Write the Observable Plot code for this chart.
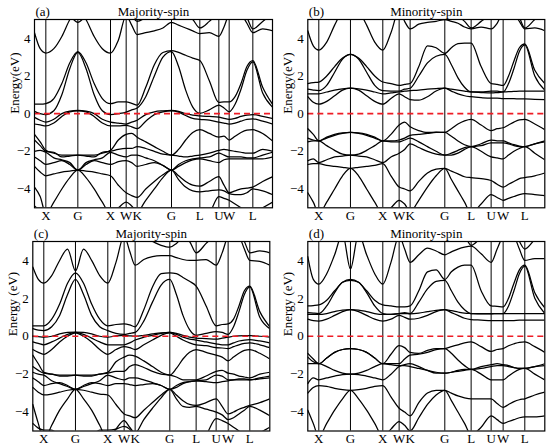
<!DOCTYPE html>
<html><head><meta charset="utf-8">
<script src="https://cdn.jsdelivr.net/npm/d3@7"></script>
<script src="https://cdn.jsdelivr.net/npm/@observablehq/plot@0.6"></script>
<style>
body{margin:0;background:#fff;}
#fig{position:relative;width:550px;height:448px;overflow:hidden;}
#fig > svg{position:absolute;}
</style></head><body><div id="fig"></div>
<script>
// k-path labels (high-symmetry points)
const kLabels = ["X","G","X","W","K","G","L","U","W","L"];
// k-path distances of the segment ends (start, 10 labelled points, end)
const kposA = [0,34,130,228,275,308,411,496,553,584,655,714];
const kposB = [0,33,128,225,274,307,411,490,550,586,651,711];
// sample positions along the path, in segment units (integers = labelled points)
const T = [0,0.5,1,1.25,1.5,1.75,2,2.25,2.5,2.75,3,3.5,4,4.5,5,5.25,5.5,5.75,6,6.25,6.5,6.75,7,7.5,8,8.5,9,9.25,9.5,9.75,10,10.5,11];
const yTicks = [-4,-2,0,2,4];

// (a) Majority-spin
const bandsA = [
[4.3,3.45,3.22,3.45,4.1,5.0,5.6,5.0,4.1,3.45,3.22, 3.9,5.2,4.7,4.2,4.3,4.4,4.55,4.85, 4.7,4.55,4.4,4.25,4.3,4.1,4.6,5.3, 5.5,5.3,4.8,4.3,4.5,4.4],
[5.6,5.6,5.6,5.6,5.5,5.2,4.85,5.2,5.5,5.6,5.6, 5.6,5.5,5.2,4.9,5.1,5.3,5.3,5.0, 5.2,5.3,5.0,4.55,4.9,5.4,5.6,5.6, 5.6,5.5,5.1,4.5,4.9,5.3],
[0.5,0.5,0.53,0.8,1.6,2.7,3.3,2.7,1.6,0.8,0.53, 0.62,0.62,0.55,0.45,1.4,2.6,3.25,3.35, 3.25,3.1,2.95,2.82,1.75,0.6,0.63,0.62, 0.9,1.6,2.5,2.82,1.4,0.5],
[0.12,0.0,-0.05,0.15,1.0,2.4,3.25,2.4,1.0,0.15,-0.05, 0.0,0.08,0.2,0.3,0.9,2.0,3.0,3.3, 2.5,1.25,0.35,0.02,0.2,0.45,0.3,0.1, 0.5,1.3,2.3,2.75,1.1,0.35],
[-0.2,-0.35,-0.45,-0.3,0.0,0.13,0.17,0.13,0.0,-0.3,-0.45, -0.5,-0.55,-0.45,-0.35,-0.05,0.1,0.15,0.17, 0.12,0.0,-0.08,-0.12,-0.15,-0.18,-0.25,-0.3, -0.25,-0.15,-0.08,-0.05,-0.15,-0.25],
[-0.55,-0.6,-0.65,-0.5,-0.15,0.1,0.15,0.1,-0.15,-0.5,-0.65, -0.65,-0.62,-0.7,-0.8,-0.4,-0.05,0.1,0.15, 0.08,-0.1,-0.25,-0.3,-0.35,-0.45,-0.5,-0.55, -0.5,-0.4,-0.3,-0.28,-0.4,-0.55],
[-1.1,-1.5,-1.95,-2.1,-2.2,-2.2,-2.2,-2.2,-2.2,-2.1,-1.95, -1.4,-1.1,-1.05,-1.25,-1.5,-1.75,-2.0,-2.2, -1.9,-1.4,-1.0,-0.85,-1.05,-1.25,-1.2,-1.4, -1.2,-1.0,-0.88,-0.85,-1.05,-1.45],
[-1.4,-1.7,-2.0,-2.05,-2.3,-2.25,-2.2,-2.25,-2.3,-2.05,-2.0, -1.9,-1.85,-1.85,-1.75,-1.85,-2.0,-2.15,-2.2, -2.25,-2.3,-2.25,-2.2,-2.1,-1.95,-1.9,-1.95, -2.0,-2.05,-2.1,-2.1,-1.9,-2.0],
[-2.0,-1.95,-2.05,-2.35,-2.45,-2.6,-3.0,-2.6,-2.45,-2.35,-2.05, -2.2,-2.3,-2.2,-2.2,-2.35,-2.5,-2.75,-3.0, -2.7,-2.5,-2.4,-2.35,-2.3,-2.1,-2.2,-2.3, -2.3,-2.3,-2.35,-2.35,-2.2,-2.05],
[-2.3,-2.5,-2.7,-2.6,-2.5,-2.7,-3.0,-2.7,-2.5,-2.6,-2.7, -2.55,-2.5,-2.6,-2.8,-2.7,-2.6,-2.75,-3.0, -2.8,-2.6,-2.45,-2.4,-2.5,-2.6,-2.45,-2.4, -2.4,-2.4,-2.4,-2.4,-2.4,-2.3],
[-2.8,-3.1,-3.3,-3.2,-3.1,-3.05,-3.0,-3.05,-3.1,-3.2,-3.3, -3.8,-4.2,-4.35,-4.45,-4.0,-3.6,-3.25,-3.0, -3.3,-3.6,-3.8,-3.85,-3.6,-3.35,-3.8,-4.2, -4.1,-4.0,-3.95,-3.9,-3.6,-3.35],
[-3.9,-4.4,-5.3,-4.7,-4.0,-3.4,-3.0,-3.4,-4.0,-4.7,-5.3, -5.0,-4.7,-4.9,-5.2,-4.6,-4.0,-3.4,-3.0, -3.5,-3.9,-4.1,-4.15,-4.1,-4.05,-4.1,-4.25, -4.3,-4.3,-4.2,-4.0,-4.1,-4.3],
[-4.9,-5.2,-5.6,-5.6,-5.6,-5.6,-5.6,-5.6,-5.6,-5.6,-5.6, -5.6,-5.6,-5.6,-5.6,-5.6,-5.6,-5.6,-5.6, -5.6,-5.6,-5.6,-5.6,-5.3,-4.4,-4.5,-4.6, -4.8,-5.0,-5.2,-5.3,-5.0,-4.7]
];

// (b) Minority-spin
const bandsB = [
[4.4,3.6,3.38,3.8,4.7,5.5,6.0,5.5,4.7,3.8,3.38, 4.3,5.5,4.9,4.5,4.75,4.85,4.9,5.0, 4.9,4.8,4.6,4.5,4.6,4.5,4.8,5.4, 5.5,5.3,4.9,4.5,4.55,4.4],
[5.6,5.6,5.6,5.6,5.6,5.6,5.6,5.6,5.6,5.6,5.6, 5.6,5.6,5.3,5.0,5.2,5.4,5.5,5.5, 5.4,5.2,4.9,4.55,4.9,5.3,5.6,5.6, 5.6,5.5,5.1,4.55,5.0,5.4],
[1.6,1.65,1.68,2.0,2.5,2.95,3.15,2.95,2.5,2.0,1.68, 1.6,1.5,1.55,1.6,2.5,3.6,3.5,3.2, 3.5,3.72,3.75,3.75,2.5,1.6,1.55,1.5, 2.0,2.8,3.5,3.7,2.3,1.6],
[1.3,1.25,1.22,1.5,2.2,2.9,3.15,2.9,2.2,1.5,1.22, 1.2,1.2,1.3,1.35,2.0,2.7,3.05,3.15, 2.6,1.9,1.4,1.15,1.15,1.2,1.2,1.15, 1.6,2.4,3.3,3.65,2.0,1.25],
[1.05,1.05,1.05,1.15,1.25,1.32,1.35,1.32,1.25,1.15,1.05, 1.1,1.15,1.2,1.22,1.25,1.3,1.33,1.35, 1.3,1.25,1.2,1.15,1.12,1.1,1.12,1.15, 1.17,1.18,1.2,1.2,1.2,1.2],
[0.9,0.6,0.5,0.65,0.95,1.25,1.35,1.25,0.95,0.65,0.5, 0.8,1.05,0.9,0.75,0.72,0.9,1.2,1.35, 1.2,1.05,0.95,0.9,0.85,0.82,0.82,0.8, 0.8,0.8,0.78,0.78,0.76,0.75],
[-0.8,-1.1,-1.45,-1.25,-1.1,-1.02,-1.0,-1.02,-1.1,-1.25,-1.45, -1.1,-0.6,-0.45,-0.7,-0.9,-1.0,-0.98,-1.0, -0.8,-0.55,-0.38,-0.3,-0.6,-0.9,-0.8,-0.75, -0.6,-0.45,-0.33,-0.3,-0.55,-0.85],
[-1.3,-1.4,-1.45,-1.3,-1.15,-1.05,-1.0,-1.05,-1.15,-1.3,-1.45, -1.45,-1.4,-1.3,-1.15,-1.1,-1.05,-1.0,-1.0, -1.2,-1.45,-1.65,-1.75,-1.6,-1.4,-1.45,-1.45, -1.55,-1.65,-1.72,-1.75,-1.6,-1.45],
[-1.5,-1.45,-1.45,-1.7,-1.95,-2.15,-2.2,-2.15,-1.95,-1.7,-1.45, -1.5,-1.5,-1.4,-1.3,-1.5,-1.75,-2.0,-2.2, -2.1,-1.95,-1.8,-1.75,-1.7,-1.55,-1.55,-1.55, -1.6,-1.7,-1.75,-1.75,-1.6,-1.5],
[-2.5,-2.4,-2.6,-2.45,-2.3,-2.25,-2.2,-2.25,-2.3,-2.45,-2.6, -2.3,-2.1,-1.9,-1.6,-1.8,-2.0,-2.15,-2.2, -2.2,-2.1,-1.9,-1.75,-2.0,-2.3,-2.35,-2.4, -2.2,-2.0,-1.85,-1.75,-2.1,-2.45],
[-2.7,-2.65,-2.65,-2.75,-2.8,-2.85,-2.9,-2.85,-2.8,-2.75,-2.65, -3.3,-3.9,-4.0,-4.1,-3.6,-3.15,-2.95,-2.9, -3.05,-3.2,-3.35,-3.4,-3.45,-3.55,-3.75,-3.9, -3.75,-3.6,-3.45,-3.4,-3.3,-3.15],
[-4.2,-4.7,-5.3,-4.7,-4.0,-3.3,-2.9,-3.3,-4.0,-4.7,-5.3, -5.0,-4.6,-4.8,-5.2,-4.6,-3.9,-3.3,-2.9, -3.5,-4.1,-4.7,-5.3,-4.8,-4.3,-4.45,-4.6, -4.5,-4.4,-4.3,-4.25,-4.3,-4.35]
];

// (c) Majority-spin
const bandsC = [
[3.65,3.0,2.8,3.2,4.0,4.6,3.45,4.6,4.0,3.2,2.8, 3.9,5.3,4.5,3.75,4.05,4.2,4.25,4.25, 4.15,4.05,4.0,4.0,4.05,3.75,4.4,5.3, 5.5,5.3,4.6,4.0,3.95,3.75],
[5.6,5.6,5.6,5.6,5.6,5.6,5.6,5.6,5.6,5.6,5.6, 5.6,5.6,5.5,5.3,5.2,5.0,4.8,4.7, 4.9,5.2,5.0,4.4,4.9,5.4,5.6,5.6, 5.6,5.5,5.0,4.4,4.5,4.4],
[0.55,0.55,0.55,0.9,1.7,2.8,3.35,2.8,1.7,0.9,0.55, 0.62,0.65,0.6,0.5,1.4,2.6,3.3,3.35, 3.3,3.1,2.9,2.65,1.6,0.55,0.62,0.65, 0.9,1.6,2.4,2.65,1.3,0.5],
[0.4,0.32,0.3,0.5,1.1,2.2,3.0,2.2,1.1,0.5,0.3, 0.15,0.1,0.15,0.2,0.8,1.8,2.7,3.0, 2.2,1.1,0.35,0.05,0.15,0.25,0.2,0.1, 0.5,1.3,2.2,2.6,1.0,0.4],
[0.0,-0.02,-0.05,0.0,0.12,0.2,0.22,0.2,0.12,0.0,-0.05, 0.02,0.05,0.02,0.0,0.05,0.12,0.18,0.2, 0.15,0.05,-0.05,-0.1,-0.12,-0.15,-0.1,-0.05, 0.0,0.02,0.03,0.03,0.0,-0.05],
[-0.3,-0.38,-0.45,-0.3,-0.1,0.1,0.2,0.1,-0.1,-0.3,-0.45, -0.45,-0.45,-0.35,-0.2,-0.05,0.05,0.15,0.2, 0.1,-0.05,-0.15,-0.2,-0.3,-0.4,-0.45,-0.45, -0.35,-0.25,-0.2,-0.18,-0.25,-0.35],
[-0.7,-0.85,-0.95,-0.7,-0.3,0.0,0.18,0.0,-0.3,-0.7,-0.95, -0.7,-0.55,-0.6,-0.7,-0.45,-0.2,0.05,0.18, 0.0,-0.2,-0.35,-0.45,-0.5,-0.6,-0.62,-0.65, -0.55,-0.45,-0.38,-0.35,-0.45,-0.6],
[-1.0,-1.45,-1.9,-2.0,-2.05,-2.05,-2.05,-2.05,-2.05,-2.0,-1.9, -1.35,-1.1,-1.0,-1.05,-1.3,-1.6,-1.9,-2.05, -1.7,-1.2,-0.85,-0.7,-0.85,-1.0,-1.1,-1.3, -1.1,-0.9,-0.75,-0.7,-0.9,-1.2],
[-1.6,-1.8,-1.95,-2.0,-2.1,-2.1,-2.05,-2.1,-2.1,-2.0,-1.95, -1.85,-1.85,-1.6,-1.5,-1.65,-1.85,-2.0,-2.05, -2.15,-2.3,-2.3,-2.3,-2.1,-1.85,-1.8,-1.95, -2.0,-2.1,-2.15,-2.2,-2.0,-1.9],
[-1.9,-2.0,-2.05,-2.35,-2.5,-2.65,-2.8,-2.65,-2.5,-2.35,-2.05, -2.2,-2.3,-2.2,-2.2,-2.3,-2.45,-2.6,-2.8, -2.6,-2.45,-2.4,-2.35,-2.3,-2.05,-2.1,-2.3, -2.3,-2.25,-2.25,-2.3,-2.2,-2.1],
[-2.2,-2.4,-2.6,-2.5,-2.45,-2.6,-2.8,-2.6,-2.45,-2.5,-2.6, -2.5,-2.5,-2.55,-2.6,-2.55,-2.5,-2.6,-2.8, -2.7,-2.5,-2.4,-2.35,-2.4,-2.45,-2.4,-2.35, -2.3,-2.3,-2.3,-2.3,-2.25,-2.2],
[-2.7,-2.95,-3.1,-3.05,-2.95,-2.85,-2.8,-2.85,-2.95,-3.05,-3.1, -3.6,-4.1,-4.2,-4.3,-3.9,-3.5,-3.1,-2.8, -3.1,-3.4,-3.6,-3.65,-3.5,-3.3,-3.7,-4.1, -4.0,-3.85,-3.75,-3.65,-3.5,-3.3],
[-3.6,-4.6,-5.5,-4.7,-3.9,-3.3,-2.8,-3.3,-3.9,-4.7,-5.5, -4.9,-4.45,-4.8,-5.1,-4.4,-3.8,-3.25,-2.8, -3.3,-3.7,-3.75,-3.7,-3.85,-4.0,-4.15,-4.4, -4.3,-4.1,-3.9,-3.7,-3.9,-4.2],
[-4.6,-4.85,-4.95,-4.95,-5.3,-5.6,-5.6,-5.6,-5.3,-4.95,-4.95, -4.9,-4.75,-4.9,-5.3,-5.6,-5.6,-5.6,-5.6, -5.6,-5.6,-5.6,-5.6,-5.2,-4.35,-4.45,-4.6, -4.8,-5.0,-5.2,-5.4,-5.1,-4.8]
];

// (d) Minority-spin
const bandsD = [
[4.2,3.0,2.75,3.3,4.3,5.4,3.55,5.4,4.3,3.3,2.75, 3.9,5.3,4.6,3.9,4.3,4.65,4.5,4.3, 4.45,4.6,4.7,4.75,4.35,3.9,4.6,5.3, 5.5,5.3,4.6,4.0,4.1,4.1],
[5.6,5.6,5.6,5.6,5.6,5.6,5.6,5.6,5.6,5.6,5.6, 5.6,5.6,5.5,5.3,5.4,5.5,5.3,5.1, 5.3,5.5,5.3,4.8,5.2,5.5,5.6,5.6, 5.6,5.5,5.0,4.6,5.1,5.5],
[1.6,1.62,1.65,1.9,2.4,2.85,3.0,2.85,2.4,1.9,1.65, 1.6,1.55,1.55,1.6,2.4,3.4,3.5,3.0, 3.4,3.65,3.75,3.75,2.4,1.6,1.58,1.55, 2.0,2.8,3.5,3.75,2.3,1.5],
[1.25,1.22,1.2,1.6,2.3,2.85,2.95,2.85,2.3,1.6,1.2, 1.15,1.2,1.25,1.2,1.8,2.5,2.9,2.95, 2.4,1.8,1.4,1.2,1.2,1.2,1.2,1.2, 1.6,2.4,3.3,3.7,2.0,1.2],
[1.15,1.15,1.15,1.2,1.3,1.38,1.4,1.38,1.3,1.2,1.15, 1.15,1.2,1.2,1.18,1.22,1.3,1.37,1.4, 1.35,1.28,1.22,1.2,1.18,1.18,1.2,1.2, 1.2,1.2,1.2,1.2,1.2,1.2],
[0.9,0.82,0.8,0.9,1.1,1.3,1.4,1.3,1.1,0.9,0.8, 0.9,1.1,1.0,0.9,0.95,1.1,1.3,1.4, 1.25,1.1,0.95,0.88,0.85,0.82,0.82,0.82, 0.82,0.83,0.85,0.85,0.85,0.85],
[-0.9,-1.2,-1.45,-1.15,-0.85,-0.7,-0.65,-0.7,-0.85,-1.15,-1.45, -0.95,-0.5,-0.6,-0.85,-0.9,-0.75,-0.65,-0.65, -0.55,-0.45,-0.35,-0.3,-0.55,-0.8,-0.7,-0.65, -0.5,-0.4,-0.32,-0.3,-0.55,-0.85],
[-1.1,-1.35,-1.45,-1.15,-0.85,-0.7,-0.65,-0.7,-0.85,-1.15,-1.45, -1.45,-1.45,-1.2,-1.0,-0.95,-0.85,-0.7,-0.65, -0.9,-1.25,-1.55,-1.75,-1.6,-1.5,-1.45,-1.5, -1.55,-1.65,-1.7,-1.7,-1.6,-1.45],
[-1.45,-1.45,-1.45,-1.6,-1.8,-1.95,-2.0,-1.95,-1.8,-1.6,-1.45, -1.5,-1.55,-1.55,-1.6,-1.7,-1.8,-1.9,-1.95, -1.9,-1.8,-1.75,-1.75,-1.7,-1.6,-1.55,-1.55, -1.6,-1.65,-1.7,-1.7,-1.6,-1.55],
[-2.5,-2.2,-2.3,-2.2,-2.1,-2.02,-2.0,-2.02,-2.1,-2.2,-2.3, -2.0,-1.6,-1.5,-1.45,-1.6,-1.8,-1.95,-1.95, -1.9,-1.85,-1.8,-1.75,-2.0,-2.3,-2.3,-2.3, -2.1,-1.9,-1.75,-1.7,-2.0,-2.3],
[-3.0,-2.7,-2.6,-2.65,-2.75,-2.82,-2.85,-2.82,-2.75,-2.65,-2.6, -3.2,-3.8,-4.0,-4.2,-3.5,-3.0,-2.85,-2.85, -3.0,-3.15,-3.25,-3.3,-3.3,-3.3,-3.55,-3.75, -3.6,-3.45,-3.35,-3.3,-3.1,-2.95],
[-3.9,-4.6,-5.3,-4.6,-3.9,-3.3,-2.85,-3.3,-3.9,-4.6,-5.3, -4.9,-4.5,-4.7,-5.0,-4.3,-3.6,-3.1,-2.85, -3.4,-4.0,-4.6,-5.2,-4.8,-4.2,-4.4,-4.6, -4.5,-4.4,-4.3,-4.25,-4.25,-4.2]
];

const FONT = "'Liberation Serif','Times New Roman',Times,serif";

function panel(bands, kpos, o) {
  const kx = d3.scaleLinear().domain(d3.range(12)).range(kpos);
  const rows = bands.flatMap((b, j) => b.map((e, i) => ({k: kx(T[i]), e, band: j})));
  const inner = kpos.slice(1, -1);
  const labelOf = new Map(inner.map((p, i) => [p, kLabels[i]]));
  const svg = Plot.plot({
    width: 275, height: 224,
    marginLeft: o.ml, marginRight: o.mr, marginTop: o.mt, marginBottom: o.mb,
    style: {fontFamily: FONT, fontSize: "13px", color: "#000", background: "#fff", overflow: "visible"},
    x: {domain: [0, kpos[11]], ticks: inner, tickFormat: d => labelOf.get(d), tickSize: 0, tickPadding: 3, label: null},
    y: {domain: [-5, 5], ticks: yTicks, tickSize: 0, tickPadding: 4, label: null},
    marks: [
      Plot.ruleX(inner, {stroke: "#000", strokeWidth: 1}),
      Plot.line(rows, {x: "k", y: "e", z: "band", curve: "monotone-x", stroke: "#000", strokeWidth: 1.25, clip: true}),
      Plot.ruleY([0], {stroke: "#ee1c25", strokeWidth: 1.7, strokeDasharray: "6,4"}),
      Plot.frame({stroke: "#000", strokeWidth: 1.2}),
      Plot.text([o.title], {frameAnchor: "top", dy: -4, lineAnchor: "bottom", fontSize: 13}),
      Plot.text([o.tag], {frameAnchor: "top-left", dx: 1, dy: -4, lineAnchor: "bottom", textAnchor: "start", fontSize: 13}),
      Plot.text([o.ylabel], {frameAnchor: "left", rotate: -90, dx: -20, fontSize: 13})
    ]
  });
  svg.style.left = o.left + "px";
  svg.style.top = o.top + "px";
  return svg;
}

const fig = document.getElementById("fig");
fig.append(
  panel(bandsA, kposA, {left: 0, top: 0, ml: 34, mr: 3, mt: 19, mb: 16.7, tag: "(a)", title: "Majority-spin", ylabel: "Energy(eV)"}),
  panel(bandsB, kposB, {left: 275, top: 0, ml: 32.3, mr: 5.7, mt: 19, mb: 16.7, tag: "(b)", title: "Minority-spin", ylabel: "Energy(eV)"}),
  panel(bandsC, kposB, {left: 0, top: 224, ml: 32.3, mr: 5.7, mt: 17, mb: 17.5, tag: "(c)", title: "Majority-spin", ylabel: "Energy (eV)"}),
  panel(bandsD, kposB, {left: 275, top: 224, ml: 32.3, mr: 5.7, mt: 17, mb: 17.5, tag: "(d)", title: "Minority-spin", ylabel: "Energy (eV)"})
);
</script>
</body></html>
